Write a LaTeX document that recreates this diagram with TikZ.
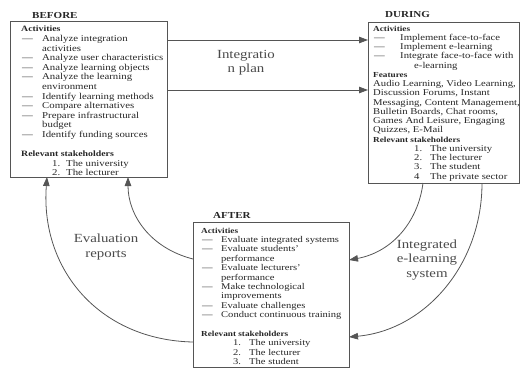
\documentclass[tikz,border=0pt]{standalone}
\usepackage{fontspec}
\setmainfont{Liberation Serif}[FakeStretch=1.2]
\usepackage{array}
\usetikzlibrary{arrows.meta}

\definecolor{ink}{HTML}{262626}
\definecolor{frame}{HTML}{555555}
\definecolor{labelgray}{HTML}{4A4A4A}

% helpers for the box contents
\newcommand{\hd}[1]{{\fontsize{7.7}{9}\selectfont\bfseries #1}}
\newcommand{\hdbig}[1]{{\fontsize{8.2}{9}\selectfont\bfseries #1}}
\newcommand{\ddash}{\hspace{1pt}\textemdash}
\newcommand{\whole}[1]{\multicolumn{2}{@{}l@{}}{#1}}
\newcommand{\who}[4]{\multicolumn{2}{@{}l@{}}{\hspace{#1}\makebox[#2][l]{#3}#4}}

\begin{document}
\begin{tikzpicture}[x=1pt,y=-1pt,
  stagebox/.style={draw=frame, line width=0.8pt, inner sep=0pt, outer sep=0pt, anchor=north west},
  stagetitle/.style={anchor=base west, text=ink, font=\fontsize{9.2}{10}\selectfont\bfseries, inner sep=0pt},
  content/.style={anchor=base west, text=ink, inner sep=0pt, align=left},
  flowlabel/.style={text=labelgray, align=center, inner sep=0pt, font=\fontsize{12.4}{14.5}\selectfont},
  link/.style={draw=frame, line width=0.8pt, -{Triangle[length=9pt,width=6.5pt]}}]

\useasboundingbox (0,0) rectangle (521,368);

% stage frames
\node[stagebox, minimum width=157pt, minimum height=156pt] (before) at (10,21) {};
\node[stagebox, minimum width=151pt, minimum height=161pt] (during) at (368,22) {};
\node[stagebox, minimum width=156pt, minimum height=145pt] (after) at (193,222) {};

% stage titles
\node[stagetitle] (tbefore) at (32,18.3) {BEFORE};
\node[stagetitle] (tduring) at (385,17.3) {DURING};
\node[stagetitle] (tafter) at (213,218.5) {AFTER};

% BEFORE contents
\node[content] (cbefore) at (21,31.8) {\fontsize{9}{9.6}\selectfont
\begin{tabular}[t]{@{}p{21pt}@{}l@{}}
\whole{\hdbig{Activities}}\\
\ddash & Analyze integration\\
 & activities\\
\ddash & Analyze user characteristics\\
\ddash & Analyze learning objects\\
\ddash & Analyze the learning\\
 & environment\\
\ddash & Identify learning methods\\
\ddash & Compare alternatives\\
\ddash & Prepare infrastructural\\
 & budget\\
\ddash & Identify funding sources\\
\\
\whole{\hdbig{Relevant stakeholders}}\\
\who{31pt}{14pt}{1.}{The university}\\
\who{31pt}{14pt}{2.}{The lecturer}
\end{tabular}};

% DURING contents
\node[content] (cduring) at (373,31) {\fontsize{8.9}{9.25}\selectfont
\begin{tabular}[t]{@{}p{27pt}@{}l@{}}
\whole{\hd{Activities}}\\
\ddash & Implement face-to-face\\
\ddash & Implement e-learning\\
\ddash & Integrate face-to-face with\\
 & \hspace{14pt}e-learning\\
\whole{\hd{Features}}\\
\whole{Audio Learning, Video Learning,}\\
\whole{Discussion Forums, Instant}\\
\whole{Messaging, Content Management,}\\
\whole{Bulletin Boards, Chat rooms,}\\
\whole{Games And Leisure, Engaging}\\
\whole{Quizzes, E-Mail}\\
\whole{\hd{Relevant stakeholders}}\\
\who{41pt}{16pt}{1.}{The university}\\
\who{41pt}{16pt}{2.}{The lecturer}\\
\who{41pt}{16pt}{3.}{The student}\\
\who{41pt}{16pt}{4}{The private sector}
\end{tabular}};

% AFTER contents
\node[content] (cafter) at (201,233) {\fontsize{8.8}{9.4}\selectfont
\begin{tabular}[t]{@{}p{20pt}@{}l@{}}
\whole{\hd{Activities}}\\
\ddash & Evaluate integrated systems\\
\ddash & Evaluate students'\\
 & performance\\
\ddash & Evaluate lecturers'\\
 & performance\\
\ddash & Make technological\\
 & improvements\\
\ddash & Evaluate challenges\\
\ddash & Conduct continuous training\\
\\
\whole{\hd{Relevant stakeholders}}\\
\who{32pt}{16pt}{1.}{The university}\\
\who{32pt}{16pt}{2.}{The lecturer}\\
\who{32pt}{16pt}{3.}{The student}
\end{tabular}};

% flow labels
\node[flowlabel] (lplan) at (246,62.5) {Integratio\\n plan};
\node[flowlabel] (lreports) at (106,247) {Evaluation\\reports};
\node[flowlabel] (lsystem) at (427,260) {Integrated\\e-learning\\system};

% BEFORE -> DURING
\draw[link] ([yshift=-19pt]before.north east) -- ([yshift=-18pt]during.north west);
\draw[link] ([yshift=-69pt]before.north east) -- ([yshift=-68pt]during.north west);

% DURING -> AFTER
\draw[link] ([xshift=55pt]during.south west) .. controls (418,222) and (392,252) .. ([yshift=-38pt]after.north east);
\draw[link] ([xshift=114pt]during.south west) .. controls (482,265) and (425,330) .. ([yshift=-115pt]after.north east);

% AFTER -> BEFORE
\draw[link] ([yshift=-37pt]after.north west) .. controls (150,248) and (128,215) .. ([xshift=118pt]before.south west);
\draw[link] ([yshift=-120pt]after.north west) .. controls (100,340) and (40,270) .. ([xshift=37pt]before.south west);

\end{tikzpicture}
\end{document}
